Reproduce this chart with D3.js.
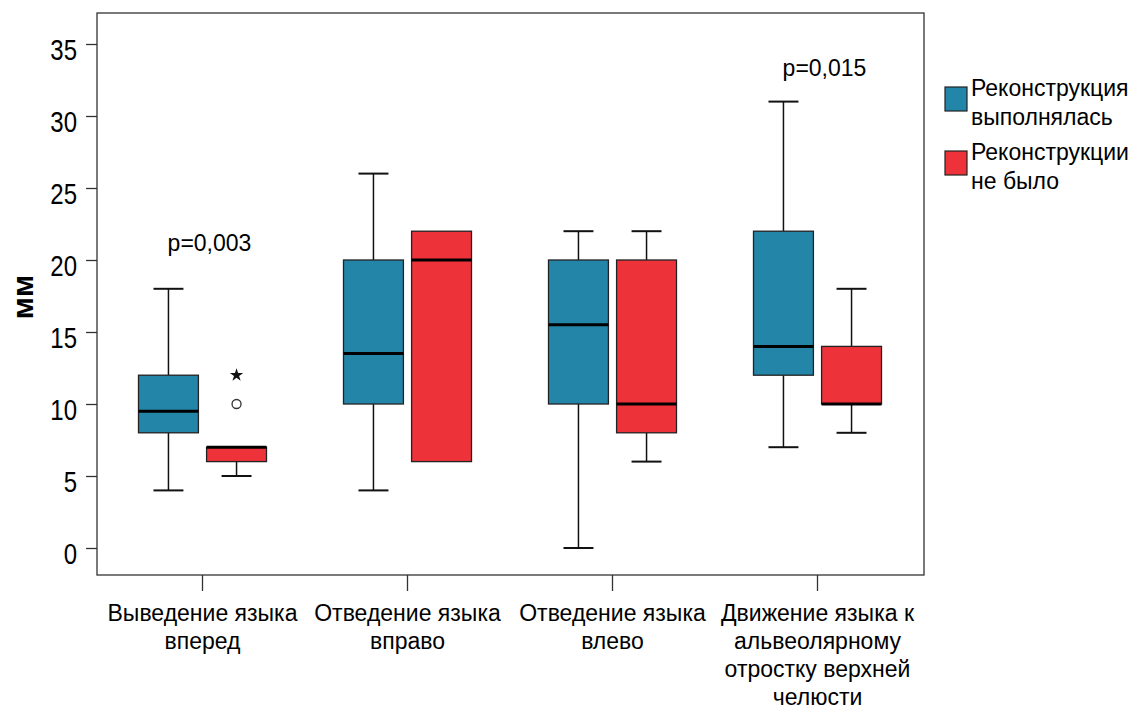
<!DOCTYPE html>
<html>
<head>
<meta charset="utf-8">
<script src="https://cdnjs.cloudflare.com/ajax/libs/d3/7.8.5/d3.min.js"></script>
<style>
  body { margin: 0; background: #fff; }
  text { font-family: "Liberation Sans", Arial, sans-serif; fill: #000; }
</style>
</head>
<body>
<svg id="chart"></svg>
<script>
const categories = [
  ["Выведение языка", "вперед"],
  ["Отведение языка", "вправо"],
  ["Отведение языка", "влево"],
  ["Движение языка к", "альвеолярному", "отростку верхней", "челюсти"]
];
const groups = ["Реконструкция выполнялась", "Реконструкции не было"];
const groupLegend = [["Реконструкция", "выполнялась"], ["Реконструкции", "не было"]];
const colors = ["#2386a9", "#ee3239"];

// [min, q1, median, q3, max] per category, per group
const statsDone = [
  [4, 8, 9.5, 12, 18],
  [4, 10, 13.5, 20, 26],
  [0, 10, 15.5, 20, 22],
  [7, 12, 14, 22, 31]
];
const statsNone = [
  [5, 6, 7, 7, 7],
  [6, 6, 20, 22, 22],
  [6, 8, 10, 20, 22],
  [8, 10, 10, 14, 18]
];
const outliers = [
  { cat: 0, group: 1, value: 10, kind: "circle" },
  { cat: 0, group: 1, value: 12, kind: "star" }
];
const pValues = [
  { cat: 0, text: "p=0,003", value: 20.6 },
  { cat: 3, text: "p=0,015", value: 32.8 }
];
const yTicks = [0, 5, 10, 15, 20, 25, 30, 35];

const W = 1135, H = 711;
const frame = { left: 97, right: 924, top: 13, bottom: 575 };

const svg = d3.select("#chart").attr("width", W).attr("height", H);

const y = d3.scaleLinear().domain([0, 35]).range([548, 44]);
const x = d3.scaleBand().domain(d3.range(categories.length)).range([100, 920]);
const xi = d3.scaleBand().domain([0, 1]).range([-64, 64]).paddingInner(0.12);

// frame
svg.append("rect")
  .attr("x", frame.left).attr("y", frame.top)
  .attr("width", frame.right - frame.left).attr("height", frame.bottom - frame.top)
  .attr("fill", "none").attr("stroke", "#333").attr("stroke-width", 1.3);

// y axis
const yAxis = svg.append("g")
  .attr("transform", `translate(${frame.left},0)`)
  .call(d3.axisLeft(y).tickValues(yTicks).tickSize(11).tickPadding(9));
yAxis.select(".domain").remove();
yAxis.selectAll("line").attr("stroke", "#333").attr("stroke-width", 1.3);
yAxis.selectAll("text")
  .style("font-size", "24px").attr("fill", "#111")
  .style("font-family", "'Liberation Sans', Arial, sans-serif")
  .attr("dy", "0.53em")
  .attr("transform", "scale(1,1.2)");

svg.append("text")
  .attr("transform", `translate(33,${y(17.5) + 1}) rotate(-90)`)
  .attr("text-anchor", "middle")
  .style("font-size", "30px")
  .style("font-weight", "bold")
  .text("мм");

// x axis
const xAxis = svg.append("g")
  .attr("transform", `translate(0,${frame.bottom})`)
  .call(d3.axisBottom(x).tickSize(16).tickFormat(""));
xAxis.select(".domain").remove();
xAxis.selectAll("line").attr("stroke", "#333").attr("stroke-width", 1.3);

categories.forEach((lines, i) => {
  const t = svg.append("text")
    .attr("text-anchor", "middle")
    .style("font-size", "23px");
  lines.forEach((l, j) => {
    t.append("tspan")
      .attr("x", x(i) + x.bandwidth() / 2)
      .attr("y", 621 + j * 28)
      .text(l);
  });
});

// boxes
const boxData = [];
categories.forEach((c, i) => {
  boxData.push({ cat: i, group: 0, s: statsDone[i] });
  boxData.push({ cat: i, group: 1, s: statsNone[i] });
});
const cx = d => x(d.cat) + x.bandwidth() / 2 + xi(d.group) + xi.bandwidth() / 2;
const bw = xi.bandwidth();
const capW = bw / 2;

const bg = svg.selectAll("g.box").data(boxData).enter().append("g").attr("class", "box");

// whiskers
bg.append("line")
  .attr("x1", cx).attr("x2", cx)
  .attr("y1", d => y(d.s[4])).attr("y2", d => y(d.s[3]))
  .attr("stroke", "#111").attr("stroke-width", 1.5);
bg.append("line")
  .attr("x1", cx).attr("x2", cx)
  .attr("y1", d => y(d.s[1])).attr("y2", d => y(d.s[0]))
  .attr("stroke", "#111").attr("stroke-width", 1.5);
bg.filter(d => d.s[4] > d.s[3]).append("line")
  .attr("x1", d => cx(d) - capW / 2).attr("x2", d => cx(d) + capW / 2)
  .attr("y1", d => y(d.s[4])).attr("y2", d => y(d.s[4]))
  .attr("stroke", "#111").attr("stroke-width", 2);
bg.filter(d => d.s[0] < d.s[1]).append("line")
  .attr("x1", d => cx(d) - capW / 2).attr("x2", d => cx(d) + capW / 2)
  .attr("y1", d => y(d.s[0])).attr("y2", d => y(d.s[0]))
  .attr("stroke", "#111").attr("stroke-width", 2);

// box body
bg.append("rect")
  .attr("x", d => cx(d) - bw / 2).attr("width", bw)
  .attr("y", d => y(d.s[3])).attr("height", d => y(d.s[1]) - y(d.s[3]))
  .attr("fill", d => colors[d.group])
  .attr("stroke", "#222").attr("stroke-width", 1.3);

// median
bg.append("line")
  .attr("x1", d => cx(d) - bw / 2).attr("x2", d => cx(d) + bw / 2)
  .attr("y1", d => y(d.s[2])).attr("y2", d => y(d.s[2]))
  .attr("stroke", "#000").attr("stroke-width", 3);

// outliers
outliers.forEach(o => {
  const px = x(o.cat) + x.bandwidth() / 2 + xi(o.group) + xi.bandwidth() / 2;
  if (o.kind === "circle") {
    svg.append("circle").attr("cx", px).attr("cy", y(o.value)).attr("r", 4.5)
      .attr("fill", "none").attr("stroke", "#333").attr("stroke-width", 1.3);
  } else {
    svg.append("path")
      .attr("d", d3.symbol().type(d3.symbolStar).size(55)())
      .attr("transform", `translate(${px},${y(o.value)})`)
      .attr("fill", "#111");
  }
});

// p-values
pValues.forEach(p => {
  svg.append("text")
    .attr("x", x(p.cat) + x.bandwidth() / 2 + 7)
    .attr("y", y(p.value))
    .attr("text-anchor", "middle")
    .style("font-size", "23px")
    .text(p.text);
});

// legend
const lg = svg.append("g");
groupLegend.forEach((lines, i) => {
  const top = 87 + i * 64;
  lg.append("rect")
    .attr("x", 945).attr("y", top).attr("width", 22).attr("height", 24)
    .attr("fill", colors[i]).attr("stroke", "#222").attr("stroke-width", 1.2);
  const t = lg.append("text").style("font-size", "23px");
  lines.forEach((l, j) => {
    t.append("tspan").attr("x", 971).attr("y", top + 9 + j * 29).text(l);
  });
});
</script>
</body>
</html>
